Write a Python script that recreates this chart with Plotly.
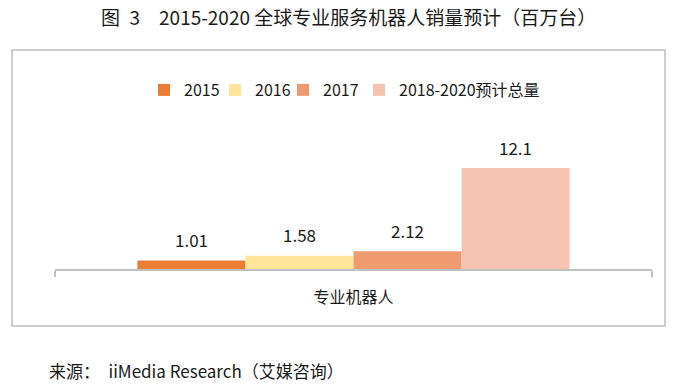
import plotly.graph_objects as go

categories = ["专业机器人"]
series_names = ["2015", "2016", "2017", "2018-2020预计总量"]
series_values = [[1.01], [1.58], [2.12], [12.1]]
value_labels = ["1.01", "1.58", "2.12", "12.1"]
colors = ["#EC7E33", "#FEE59A", "#F09A71", "#F5C3B1"]

FONT = "Noto Sans CJK SC"
BARGAP = 0.276

L, R, T, B = 55, 25, 148, 117
W, H = 677, 386
pw, ph = W - L - R, H - T - B

def px(x):
    return (x - L) / pw

def py(y):
    return (H - B - y) / ph

legend_text_x = [179, 250, 318, 394]

fig = go.Figure()
for i, (name, vals, col) in enumerate(zip(series_names, series_values, colors)):
    fig.add_trace(go.Bar(
        x=categories, y=vals, name=name, marker=dict(color=col, line=dict(width=0)),
        hoverinfo="skip", legend="legend" if i == 0 else f"legend{i+1}",
    ))

# value labels placed above each grouped bar (positions derived from bargap)
n = len(series_names)
group_w = 1 - BARGAP
bar_w = group_w / n
label_annots = []
for i, (vals, lab) in enumerate(zip(series_values, value_labels)):
    xc = -group_w / 2 + bar_w * (i + 0.5)
    label_annots.append(dict(
        text=lab, xref="x", yref="y", x=xc, y=vals[0], xanchor="center", yanchor="middle",
        yshift=21, showarrow=False, font=dict(family=FONT, size=17, color="#1a1a1a")))

legends = {}
for i, tx in enumerate(legend_text_x):
    key = "legend" if i == 0 else f"legend{i+1}"
    legends[key] = dict(orientation="h", x=px(tx - 35), xanchor="left", y=py(90), yanchor="middle",
                        font=dict(family=FONT, size=16, color="#1a1a1a"),
                        itemwidth=30, tracegroupgap=0, bgcolor="rgba(0,0,0,0)")

fig.update_layout(
    width=W, height=H,
    margin=dict(l=L, r=R, t=T, b=B, pad=0),
    paper_bgcolor="white", plot_bgcolor="white",
    barmode="group", bargap=BARGAP, bargroupgap=0,
    font=dict(family=FONT, size=15, color="#1a1a1a"),
    showlegend=True,
    xaxis=dict(showline=True, linecolor="#BFBFBF", linewidth=1.5, ticks="outside",
               tickson="boundaries", ticklen=6, tickcolor="#BFBFBF", tickwidth=1.5,
               ticklabelstandoff=13,
               tickfont=dict(family=FONT, size=16, color="#1a1a1a"),
               showgrid=False, zeroline=False, fixedrange=True),
    yaxis=dict(range=[0, 14.5], visible=False, showgrid=False, zeroline=False, fixedrange=True),
    shapes=[dict(type="rect", xref="paper", yref="paper",
                 x0=px(12), x1=px(665), y0=py(326), y1=py(50),
                 line=dict(color="#BFBFBF", width=1.5), fillcolor="rgba(0,0,0,0)", layer="below")],
    annotations=label_annots + [
        dict(text="图\u20023　2015-2020 全球专业服务机器人销量预计（百万台）", xref="paper", yref="paper",
             x=px(99), y=py(17), xanchor="left", yanchor="middle", showarrow=False,
             font=dict(family=FONT, size=19, color="#1a1a1a")),
        dict(text="来源：　iiMedia Research（艾媒咨询）", xref="paper", yref="paper",
             x=px(47), y=py(370), xanchor="left", yanchor="middle", showarrow=False,
             font=dict(family=FONT, size=17, color="#1a1a1a")),
    ],
    **legends,
)

fig.write_html("out.html", config={"displayModeBar": False},
               post_script="document.body.style.margin='0';document.body.style.overflow='hidden';")
